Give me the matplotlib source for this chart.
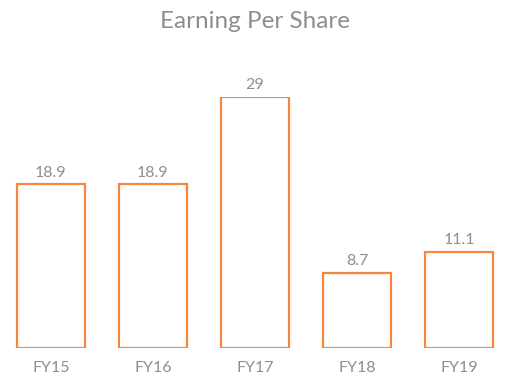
import matplotlib
matplotlib.use("Agg")
import matplotlib.pyplot as plt
import numpy as np

years = ['FY15', 'FY16', 'FY17', 'FY18', 'FY19']
eps = [18.9, 18.9, 29, 8.7, 11.1]
labels = ['18.9', '18.9', '29', '8.7', '11.1']

plt.rcParams['font.family'] = ['Lato', 'DejaVu Sans']
grey = '#8e8e8e'
orange = '#f4873d'

fig = plt.figure(figsize=(5.1, 3.82), dpi=100)
# plot area: bottom at y=348 px, top of tallest bar at y=97 px
ax = fig.add_axes([0, 34 / 382, 1, 251 / 382])

x = np.arange(len(years))
bars = ax.bar(x, eps, width=0.667, facecolor='white', edgecolor=orange, linewidth=1.6)
ax.set_xlim(-0.5, len(years) - 0.5)
ax.set_ylim(0, 29)

for b, lab in zip(bars, labels):
    ax.annotate(lab, (b.get_x() + b.get_width() / 2, b.get_height()),
                xytext=(0, 3.5), textcoords='offset points', ha='center', va='bottom',
                fontsize=11.5, color=grey, annotation_clip=False)

ax.set_xticks(x)
ax.set_xticklabels(years, fontsize=11.5, color=grey)
ax.tick_params(axis='x', length=0, pad=9)
ax.set_yticks([])
for s in ax.spines.values():
    s.set_visible(False)

fig.text(0.5, 1 - 21 / 382, 'Earning Per Share', ha='center', va='center',
         fontsize=17.5, color=grey)

fig.savefig('out.png', dpi=100)
